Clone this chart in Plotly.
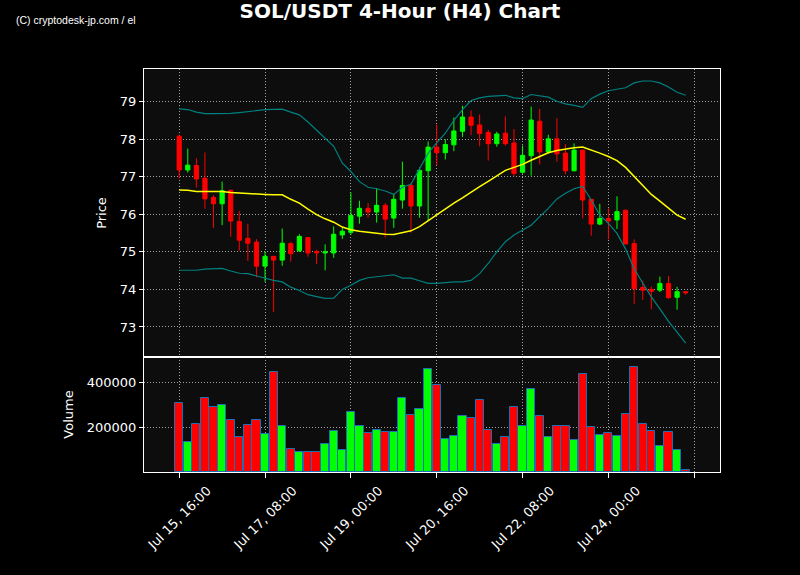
import pandas as pd
import plotly.graph_objects as go

# ---------------- data ----------------
times = pd.date_range("2024-07-15 16:00", periods=60, freq="4h")

opens = [78.08, 77.18, 77.30, 76.96, 76.45, 76.28, 76.64, 75.81, 75.36, 75.26,
         74.62, 74.88, 74.78, 75.22, 75.03, 75.38, 75.01, 74.97, 74.97, 75.45,
         75.52, 75.95, 76.16, 76.06, 76.24, 75.90, 76.38, 76.77, 76.22, 77.16,
         77.79, 77.64, 77.85, 78.21, 78.59, 78.38, 78.18, 77.88, 78.16, 77.90,
         77.12, 77.56, 78.48, 77.66, 78.01, 77.63, 77.16, 77.71, 76.40, 75.74,
         75.89, 75.85, 76.11, 75.22, 74.05, 74.00, 73.98, 74.16, 73.79, 73.94]
highs = [78.12, 77.75, 77.49, 77.65, 76.51, 76.87, 76.65, 76.09, 75.75, 75.34,
         75.01, 74.89, 75.62, 75.27, 75.47, 75.39, 75.06, 75.20, 75.68, 75.64,
         76.58, 76.36, 76.30, 76.70, 76.30, 76.55, 77.40, 76.83, 77.25, 77.94,
         78.39, 78.00, 78.58, 78.89, 78.77, 78.66, 78.25, 78.20, 78.61, 78.27,
         77.83, 78.87, 78.81, 78.12, 78.56, 77.87, 77.89, 77.72, 76.40, 76.28,
         76.16, 76.48, 76.12, 75.33, 74.23, 74.07, 74.34, 74.36, 74.07, 73.94]
lows = [76.96, 77.11, 76.71, 76.15, 75.64, 75.71, 75.40, 75.03, 74.76, 74.32,
        74.20, 73.40, 74.63, 74.74, 75.00, 74.87, 74.68, 74.51, 74.84, 75.34,
        75.45, 75.75, 75.91, 75.78, 75.38, 75.64, 76.15, 75.51, 75.91, 75.82,
        77.31, 77.46, 77.68, 78.06, 78.11, 77.81, 77.43, 77.80, 77.83, 77.01,
        77.08, 77.03, 77.33, 77.62, 77.40, 77.07, 77.14, 75.89, 75.43, 75.71,
        75.33, 75.61, 75.21, 73.61, 73.72, 73.47, 73.93, 73.75, 73.46, 73.86]
closes = [77.18, 77.31, 76.94, 76.41, 76.28, 76.63, 75.82, 75.31, 75.23, 74.62,
          74.88, 74.78, 75.23, 74.95, 75.41, 74.97, 74.97, 75.00, 75.47, 75.55,
          75.97, 76.16, 76.06, 76.24, 75.87, 76.40, 76.77, 76.22, 77.17, 77.79,
          77.64, 77.86, 78.22, 78.59, 78.37, 78.15, 77.88, 78.14, 77.88, 77.09,
          77.57, 78.51, 77.66, 78.01, 77.61, 77.16, 77.71, 76.38, 75.74, 75.89,
          75.82, 76.07, 75.21, 74.02, 73.98, 73.95, 74.16, 73.78, 73.94, 73.91]

ma = [76.65, 76.64, 76.61, 76.60, 76.61, 76.61, 76.58, 76.57, 76.55, 76.54,
      76.53, 76.52, 76.52, 76.40, 76.30, 76.14, 75.99, 75.88, 75.79, 75.66,
      75.59, 75.55, 75.52, 75.49, 75.47, 75.46, 75.50, 75.56, 75.67, 75.83,
      75.98, 76.13, 76.30, 76.44, 76.60, 76.74, 76.88, 77.03, 77.17, 77.25,
      77.33, 77.44, 77.54, 77.64, 77.70, 77.74, 77.77, 77.79, 77.72, 77.63,
      77.54, 77.43, 77.25, 77.01, 76.78, 76.53, 76.35, 76.16, 75.98, 75.87]
bb_upper = [78.81, 78.79, 78.72, 78.68, 78.68, 78.68, 78.69, 78.71, 78.73, 78.76,
            78.79, 78.80, 78.80, 78.72, 78.65, 78.46, 78.24, 78.04, 77.81, 77.36,
            77.14, 76.87, 76.72, 76.68, 76.62, 76.53, 76.72, 76.80, 77.23, 77.63,
            77.90, 78.16, 78.50, 78.79, 79.03, 79.10, 79.14, 79.16, 79.17, 79.10,
            79.08, 79.19, 79.15, 79.12, 79.01, 78.94, 78.90, 78.85, 79.08, 79.20,
            79.29, 79.32, 79.37, 79.50, 79.55, 79.55, 79.50, 79.39, 79.25, 79.17]
bb_lower = [74.51, 74.51, 74.51, 74.54, 74.55, 74.56, 74.49, 74.43, 74.42, 74.36,
            74.29, 74.24, 74.20, 74.06, 73.97, 73.86, 73.81, 73.76, 73.77, 74.00,
            74.11, 74.24, 74.31, 74.33, 74.35, 74.39, 74.30, 74.30, 74.23, 74.16,
            74.16, 74.19, 74.20, 74.20, 74.24, 74.42, 74.69, 75.00, 75.27, 75.45,
            75.59, 75.71, 75.94, 76.16, 76.41, 76.56, 76.68, 76.74, 76.38, 75.98,
            75.76, 75.49, 75.08, 74.55, 74.17, 73.80, 73.48, 73.15, 72.86, 72.57]

volumes = [309000, 133000, 213000, 333000, 293000, 298000, 235000, 157000, 210000, 235000,
           169000, 449000, 204000, 102000, 89000, 89000, 89000, 124000, 182000, 98000,
           267000, 204000, 173000, 187000, 178000, 178000, 333000, 255000, 284000, 462000,
           391000, 147000, 160000, 253000, 240000, 324000, 187000, 124000, 156000, 293000,
           204000, 373000, 249000, 156000, 204000, 204000, 142000, 440000, 200000, 164000,
           173000, 160000, 262000, 471000, 213000, 182000, 116000, 178000, 98000, 8000]

tick_values = ["2024-07-15 16:00", "2024-07-17 08:00", "2024-07-19 00:00",
               "2024-07-20 16:00", "2024-07-22 08:00", "2024-07-24 00:00",
               "2024-07-25 16:00"]
tick_labels = ["Jul 15, 16:00", "Jul 17, 08:00", "Jul 19, 00:00",
               "Jul 20, 16:00", "Jul 22, 08:00", "Jul 24, 00:00", ""]

# ---------------- styling ----------------
UP = "#00ff00"
DOWN = "#ff0000"
GRID = "rgba(200,200,200,0.8)"
FONT = "DejaVu Sans"

ML, MR, MT, MB = 144, 80, 69, 103
PW = 800 - ML - MR
PH = 575 - MT - MB

step = pd.Timedelta(hours=4)
x_range = [times[0] - 4.1 * step, times[0] + 63.0 * step]
bar_colors = [UP if c >= o else DOWN for o, c in zip(opens, closes)]

fig = go.Figure()

fig.add_trace(go.Scatter(x=times, y=bb_upper, mode="lines",
                         line=dict(color="#008080", width=1.2),
                         xaxis="x", yaxis="y", showlegend=False))
fig.add_trace(go.Scatter(x=times, y=bb_lower, mode="lines",
                         line=dict(color="#008080", width=1.2),
                         xaxis="x", yaxis="y", showlegend=False))
fig.add_trace(go.Candlestick(
    x=times, open=opens, high=highs, low=lows, close=closes,
    increasing=dict(line=dict(color=UP, width=1), fillcolor=UP),
    decreasing=dict(line=dict(color=DOWN, width=1), fillcolor=DOWN),
    xaxis="x", yaxis="y", showlegend=False))
fig.add_trace(go.Scatter(x=times, y=ma, mode="lines",
                         line=dict(color="#ffff00", width=1.5),
                         xaxis="x", yaxis="y", showlegend=False))

fig.add_trace(go.Bar(
    x=times, y=volumes,
    width=0.95 * step.total_seconds() * 1000,
    marker=dict(color=bar_colors, line=dict(color="#1f6fb4", width=1)),
    xaxis="x2", yaxis="y2", showlegend=False))

axis_common = dict(showline=True, linecolor="white", linewidth=1, mirror=True,
                   showgrid=True, gridcolor=GRID, griddash="1px,2px", gridwidth=1,
                   zeroline=False, automargin=False,
                   tickfont=dict(color="white", size=13, family=FONT))

split = 115 / PH

fig.update_layout(
    width=800, height=575,
    paper_bgcolor="#000000", plot_bgcolor="#0d0d0d",
    margin=dict(l=ML, r=MR, t=MT, b=MB),
    font=dict(family=FONT, color="white", size=13),
    title=dict(text="<b>SOL/USDT 4-Hour (H4) Chart</b>", x=0.5, xanchor="center",
               y=1 - 11 / 575, yanchor="middle", yref="container",
               font=dict(size=20, color="white", family=FONT)),
    xaxis=dict(domain=[0, 1], anchor="y", range=x_range, type="date",
               tickmode="array", tickvals=tick_values, ticktext=tick_labels,
               showticklabels=False, ticks="",
               rangeslider=dict(visible=False), **axis_common),
    yaxis=dict(domain=[split, 1], anchor="x", range=[72.2, 79.87],
               tickmode="linear", tick0=73, dtick=1,
               ticks="outside", ticklen=4, tickcolor="white",
               title=dict(text="Price", font=dict(size=13, color="white"), standoff=10),
               **axis_common),
    xaxis2=dict(domain=[0, 1], anchor="y2", matches="x", range=x_range, type="date",
                tickmode="array", tickvals=tick_values, ticktext=tick_labels,
                tickangle=-45, ticks="outside", ticklen=5, tickcolor="white",
                ticklabelshift=28,
                **axis_common),
    yaxis2=dict(domain=[0, split], anchor="x2", range=[0, 515000],
                tickmode="array", tickvals=[200000, 400000], tickformat="d",
                ticks="outside", ticklen=4, tickcolor="white",
                title=dict(text="Volume", font=dict(size=13, color="white"), standoff=10),
                **axis_common),
    bargap=0,
    annotations=[dict(text="(C) cryptodesk-jp.com / el", showarrow=False,
                      xref="paper", yref="paper",
                      x=(14 - ML) / PW, y=(575 - MB - 20) / PH,
                      xanchor="left", yanchor="middle",
                      font=dict(size=10.5, color="white",
                                family="Liberation Sans Narrow, Liberation Sans"))],
)

fig.write_html("out.html",
               config={"displayModeBar": False},
               post_script="document.body.style.margin='0px';"
                           "document.body.style.background='#000000';")
